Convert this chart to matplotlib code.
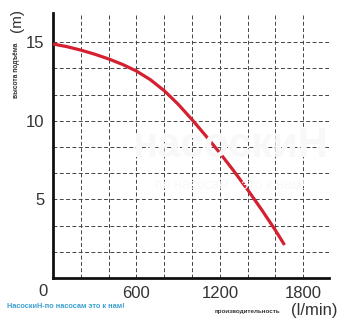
import numpy as np
import matplotlib.pyplot as plt

plt.rcParams['font.family'] = ['Liberation Sans', 'DejaVu Sans']

# pump curve
flow = [0, 100, 200, 300, 400, 500, 600, 700, 800, 900, 1000,
        1100, 1200, 1300, 1400, 1500, 1600, 1665]
head = [14.88, 14.71, 14.49, 14.23, 13.93, 13.58, 13.16, 12.61, 11.91, 11.05, 10.07,
        9.03, 7.95, 6.81, 5.61, 4.35, 3.03, 2.1]

xgrid = [200, 400, 600, 800, 1000, 1200, 1400, 1600, 1800]
xlabels = ['', '', '600', '', '', '1200', '', '', '1800']
ygrid = [5/3, 10/3, 5, 20/3, 25/3, 10, 35/3, 40/3, 15]
ylabels = ['', '', '5', '', '', '10', '', '', '15']

fig = plt.figure(figsize=(3.59, 3.25), dpi=100)
ax = fig.add_axes([53/359, 47/325, 276/359, 265/325])

ax.set_xlim(0, 1985)
ax.set_ylim(0, 16.85)

ax.set_xticks(xgrid)
ax.set_xticklabels(xlabels)
ax.set_yticks(ygrid)
ax.set_yticklabels(ylabels)
ax.tick_params(length=0, labelsize=12, colors='#333333', pad=6)
ax.grid(True, color='#444444', linestyle=(0, (4, 2.5)), linewidth=0.7)

for s in ['top', 'right']:
    ax.spines[s].set_visible(False)
for s in ['left', 'bottom']:
    ax.spines[s].set_linewidth(2.0)
    ax.spines[s].set_color('#111111')

# faint watermark
fig.text(0.64, 0.55, 'насоскиН', fontsize=30, color='#f8f8f8', weight='bold',
         ha='center', va='center', zorder=0)
fig.text(0.64, 0.43, 'по насосам - это к нам!', fontsize=10, color='#f8f8f8',
         ha='center', va='center', zorder=0)

ax.plot(flow, head, color='#d42030', linewidth=2.3, solid_capstyle='butt', zorder=3)

fig.text(43/359, 1 - 291/325, '0', fontsize=12, color='#333333', ha='center', va='center')
fig.text(17/359, 1 - 70/325, 'высота подъёма', fontsize=4.8, weight='bold', color='#333333',
         rotation=90, ha='center', va='center')
fig.text(17/359, 1 - 20/325, '(m)', fontsize=11, color='#333333',
         rotation=90, ha='center', va='center')
fig.text(247/359, 1 - 311/325, 'производительность', fontsize=4.5, weight='bold', color='#333333',
         ha='center', va='center')
fig.text(314/359, 1 - 311/325, '(l/min)', fontsize=12, color='#333333',
         ha='center', va='center')
fig.text(7/359, 1 - 307/325, 'НасоскиН-по насосам это к нам!', fontsize=5.3, weight='bold',
         color='#3a9fd0', ha='left', va='center')

fig.savefig('out.png', dpi=100)
